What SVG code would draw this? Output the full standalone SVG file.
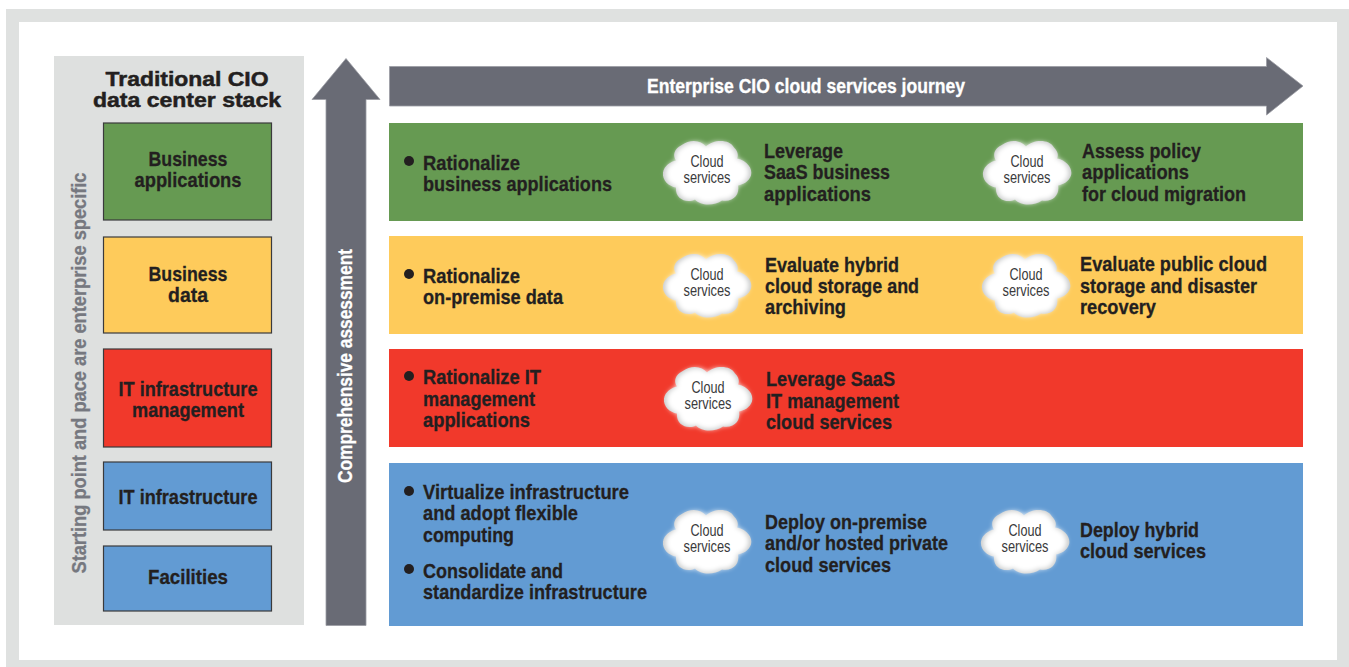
<svg xmlns="http://www.w3.org/2000/svg" width="1349" height="667" viewBox="0 0 1349 667">
<style>
text{font-family:"Liberation Sans Narrow","Liberation Sans",Arial,sans-serif;font-weight:700;fill:#231f20;stroke:#231f20;stroke-width:.3;font-size:21px}
.c{text-anchor:middle}
.cl{font-weight:400;font-size:16px;text-anchor:middle;fill:#3a3a3c;stroke:none}
.gr{fill:#76787f;stroke:#76787f;font-size:20px}
.wh{fill:#fff;stroke:#fff;font-size:20px}
.hd{font-family:"Liberation Sans",sans-serif;font-size:21px;stroke-width:.5}
.grn{fill:#669a52}.yel{fill:#fecb5b}.red{fill:#f1392b}.blu{fill:#629bd3}
.box{stroke:#3a3a3c;stroke-width:1.2}
.arrow{fill:#696b75;stroke:#9a9ca3;stroke-width:.8}
.dot{fill:#231f20}
</style>
<defs>
<filter id="b1" x="-20%" y="-20%" width="140%" height="140%"><feGaussianBlur stdDeviation=".7"/></filter>
<filter id="b2" x="-20%" y="-20%" width="140%" height="140%"><feGaussianBlur stdDeviation="3"/></filter>
<path id="cp" d="M-26,-27C-16,-34 -6,-32 -1,-26C6,-33 22,-34 27,-25C32,-20 31,-16 30,-14C40,-12 46,-4 44,3C42,9 36,12 31,13C33,22 26,30 15,28C8,33 -6,34 -12,27C-20,31 -32,27 -31,15C-38,14 -45,8 -44,0C-43,-7 -36,-11 -31,-12C-35,-18 -32,-24 -26,-27Z"/>
<g id="cloud">
<use href="#cp" fill="#c9cbcb" filter="url(#b1)"/>
<use href="#cp" fill="#fff" stroke="#fff" stroke-width="6" filter="url(#b2)" transform="scale(.88)"/>
</g>
</defs>
<rect x="6" y="9" width="1343" height="658" fill="#dfe1e0"/>
<rect x="19" y="22" width="1318" height="638" fill="#fff"/>
<g id="stack-panel">
<rect x="54" y="56" width="250" height="569" fill="#dee0df"/>
<text class="c hd" x="187" y="86" textLength="163" lengthAdjust="spacingAndGlyphs">Traditional CIO</text>
<text class="c hd" x="187" y="107" textLength="188" lengthAdjust="spacingAndGlyphs">data center stack</text>
<text class="c gr" transform="translate(86,373) rotate(-90)" textLength="401" lengthAdjust="spacingAndGlyphs">Starting point and pace are enterprise specific</text>
</g>
<g id="stack-business-applications">
<rect class="grn box" x="103.500" y="123" width="168" height="97"/>
<text class="c" x="188" y="166" textLength="79" lengthAdjust="spacingAndGlyphs">Business</text>
<text class="c" x="188" y="187" textLength="107" lengthAdjust="spacingAndGlyphs">applications</text>
</g>
<g id="stack-business-data">
<rect class="yel box" x="103.500" y="237" width="168" height="96"/>
<text class="c" x="188" y="281" textLength="79" lengthAdjust="spacingAndGlyphs">Business</text>
<text class="c" x="188" y="302" textLength="40" lengthAdjust="spacingAndGlyphs">data</text>
</g>
<g id="stack-it-management">
<rect class="red box" x="103.500" y="349" width="168" height="98"/>
<text class="c" x="188" y="396" textLength="139" lengthAdjust="spacingAndGlyphs">IT infrastructure</text>
<text class="c" x="188" y="417" textLength="112" lengthAdjust="spacingAndGlyphs">management</text>
</g>
<g id="stack-it-infrastructure">
<rect class="blu box" x="103.500" y="462" width="168" height="68"/>
<text class="c" x="188" y="504" textLength="139" lengthAdjust="spacingAndGlyphs">IT infrastructure</text>
</g>
<g id="stack-facilities">
<rect class="blu box" x="103.500" y="546" width="168" height="65"/>
<text class="c" x="188" y="584" textLength="80" lengthAdjust="spacingAndGlyphs">Facilities</text>
</g>
<g id="connectors">
<path class="arrow" d="M326,625.500V99.500H312L346,58.500L380,99.500H366V625.500Z"/>
<text class="c wh" transform="translate(352,366) rotate(-90)" textLength="234" lengthAdjust="spacingAndGlyphs">Comprehensive assessment</text>
<path class="arrow" d="M389.500,66.500H1266.500V57.500L1303,86L1266.500,115V106H389.500Z"/>
<text class="c wh" x="806" y="93" textLength="318" lengthAdjust="spacingAndGlyphs">Enterprise CIO cloud services journey</text>
</g>
<g id="band-applications">
<rect class="grn" x="389" y="123" width="914" height="98"/>
<circle class="dot" cx="409" cy="161" r="5"/>
<text x="423" y="170" textLength="97" lengthAdjust="spacingAndGlyphs">Rationalize</text>
<text x="423" y="191" textLength="189" lengthAdjust="spacingAndGlyphs">business applications</text>
<use href="#cloud" x="707" y="172.500"/>
<text class="cl" x="707" y="167" textLength="33" lengthAdjust="spacingAndGlyphs">Cloud</text>
<text class="cl" x="707" y="183" textLength="47" lengthAdjust="spacingAndGlyphs">services</text>
<text x="764" y="158" textLength="79" lengthAdjust="spacingAndGlyphs">Leverage</text>
<text x="764" y="179" textLength="126" lengthAdjust="spacingAndGlyphs">SaaS business</text>
<text x="764" y="201" textLength="107" lengthAdjust="spacingAndGlyphs">applications</text>
<use href="#cloud" x="1027" y="172.500"/>
<text class="cl" x="1027" y="167" textLength="33" lengthAdjust="spacingAndGlyphs">Cloud</text>
<text class="cl" x="1027" y="183" textLength="47" lengthAdjust="spacingAndGlyphs">services</text>
<text x="1082" y="158" textLength="119" lengthAdjust="spacingAndGlyphs">Assess policy</text>
<text x="1082" y="179" textLength="107" lengthAdjust="spacingAndGlyphs">applications</text>
<text x="1082" y="201" textLength="164" lengthAdjust="spacingAndGlyphs">for cloud migration</text>
</g>
<g id="band-data">
<rect class="yel" x="389" y="236" width="914" height="98"/>
<circle class="dot" cx="409" cy="274" r="5"/>
<text x="423" y="283" textLength="97" lengthAdjust="spacingAndGlyphs">Rationalize</text>
<text x="423" y="304" textLength="140" lengthAdjust="spacingAndGlyphs">on-premise data</text>
<use href="#cloud" x="707" y="285.500"/>
<text class="cl" x="707" y="280" textLength="33" lengthAdjust="spacingAndGlyphs">Cloud</text>
<text class="cl" x="707" y="296" textLength="47" lengthAdjust="spacingAndGlyphs">services</text>
<text x="765" y="272" textLength="134" lengthAdjust="spacingAndGlyphs">Evaluate hybrid</text>
<text x="765" y="293" textLength="154" lengthAdjust="spacingAndGlyphs">cloud storage and</text>
<text x="765" y="314" textLength="81" lengthAdjust="spacingAndGlyphs">archiving</text>
<use href="#cloud" x="1026" y="285.500"/>
<text class="cl" x="1026" y="280" textLength="33" lengthAdjust="spacingAndGlyphs">Cloud</text>
<text class="cl" x="1026" y="296" textLength="47" lengthAdjust="spacingAndGlyphs">services</text>
<text x="1080" y="271" textLength="187" lengthAdjust="spacingAndGlyphs">Evaluate public cloud</text>
<text x="1080" y="293" textLength="177" lengthAdjust="spacingAndGlyphs">storage and disaster</text>
<text x="1080" y="314" textLength="76" lengthAdjust="spacingAndGlyphs">recovery</text>
</g>
<g id="band-management">
<rect class="red" x="389" y="349" width="914" height="98"/>
<circle class="dot" cx="409" cy="376" r="5"/>
<text x="423" y="384" textLength="118" lengthAdjust="spacingAndGlyphs">Rationalize IT</text>
<text x="423" y="406" textLength="112" lengthAdjust="spacingAndGlyphs">management</text>
<text x="423" y="427" textLength="107" lengthAdjust="spacingAndGlyphs">applications</text>
<use href="#cloud" x="708" y="398.500"/>
<text class="cl" x="708" y="393" textLength="33" lengthAdjust="spacingAndGlyphs">Cloud</text>
<text class="cl" x="708" y="409" textLength="47" lengthAdjust="spacingAndGlyphs">services</text>
<text x="766" y="386" textLength="129" lengthAdjust="spacingAndGlyphs">Leverage SaaS</text>
<text x="766" y="408" textLength="133" lengthAdjust="spacingAndGlyphs">IT management</text>
<text x="766" y="429" textLength="126" lengthAdjust="spacingAndGlyphs">cloud services</text>
</g>
<g id="band-infrastructure">
<rect class="blu" x="389" y="463" width="914" height="163"/>
<circle class="dot" cx="409" cy="491" r="5"/>
<text x="423" y="499" textLength="206" lengthAdjust="spacingAndGlyphs">Virtualize infrastructure</text>
<text x="423" y="520" textLength="155" lengthAdjust="spacingAndGlyphs">and adopt flexible</text>
<text x="423" y="542" textLength="91" lengthAdjust="spacingAndGlyphs">computing</text>
<circle class="dot" cx="409" cy="569" r="5"/>
<text x="423" y="578" textLength="140" lengthAdjust="spacingAndGlyphs">Consolidate and</text>
<text x="423" y="599" textLength="224" lengthAdjust="spacingAndGlyphs">standardize infrastructure</text>
<use href="#cloud" x="707" y="541.500"/>
<text class="cl" x="707" y="536" textLength="33" lengthAdjust="spacingAndGlyphs">Cloud</text>
<text class="cl" x="707" y="552" textLength="47" lengthAdjust="spacingAndGlyphs">services</text>
<text x="765" y="529" textLength="162" lengthAdjust="spacingAndGlyphs">Deploy on-premise</text>
<text x="765" y="550" textLength="183" lengthAdjust="spacingAndGlyphs">and/or hosted private</text>
<text x="765" y="572" textLength="126" lengthAdjust="spacingAndGlyphs">cloud services</text>
<use href="#cloud" x="1025" y="541.500"/>
<text class="cl" x="1025" y="536" textLength="33" lengthAdjust="spacingAndGlyphs">Cloud</text>
<text class="cl" x="1025" y="552" textLength="47" lengthAdjust="spacingAndGlyphs">services</text>
<text x="1080" y="537" textLength="119" lengthAdjust="spacingAndGlyphs">Deploy hybrid</text>
<text x="1080" y="558" textLength="126" lengthAdjust="spacingAndGlyphs">cloud services</text>
</g>
</svg>
